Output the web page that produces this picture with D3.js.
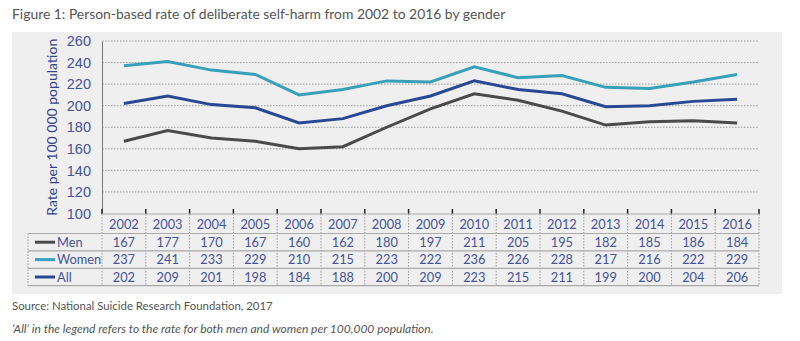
<!DOCTYPE html>
<html>
<head>
    <meta http-equiv="Content-Type" content="text/html;charset=utf-8">
    <script src="https://d3js.org/d3.v7.min.js"></script>
    <style>
        html, body {
            margin: 0;
            padding: 0;
            background: #fff;
            font-family: Lato, "Open Sans", sans-serif;
        }

        .grid line {
            stroke: #9a9a9a;
            stroke-dasharray: 1.5 1.5;
        }

        .ytick text {
            font-size: 14.5px;
            fill: #45539a;
        }

        .cell {
            font-size: 12.8px;
            fill: #45539a;
        }
    </style>
</head>
<body>
<div id="chart"></div>
<script>
    var years = [2002, 2003, 2004, 2005, 2006, 2007, 2008, 2009, 2010, 2011, 2012, 2013, 2014, 2015, 2016];
    var men = [167, 177, 170, 167, 160, 162, 180, 197, 211, 205, 195, 182, 185, 186, 184];
    var women = [237, 241, 233, 229, 210, 215, 223, 222, 236, 226, 228, 217, 216, 222, 229];
    var all = [202, 209, 201, 198, 184, 188, 200, 209, 223, 215, 211, 199, 200, 204, 206];
    var yTicks = [100, 120, 140, 160, 180, 200, 220, 240, 260];

    var series = [
        {name: "Men", values: men, color: "#4a4a4c"},
        {name: "Women", values: women, color: "#38a0b9"},
        {name: "All", values: all, color: "#2a4794"}
    ];

    function render() {
        var width = 800, height = 341;
        var plotLeft = 102, plotRight = 759, plotTop = 41, plotBottom = 213.5;
        var tableLeft = 28, headTop = 214, rowTop = 233.5, rowH = 17.4;

        var svg = d3.select("#chart").append("svg")
            .attr("width", width)
            .attr("height", height);

        svg.append("text")
            .attr("x", 12).attr("y", 19)
            .attr("font-size", 13.9)
            .attr("fill", "#555")
            .text("Figure 1: Person-based rate of deliberate self-harm from 2002 to 2016 by gender");

        // grey panel behind chart + table
        svg.append("rect")
            .attr("x", 12).attr("y", 32)
            .attr("width", 770).attr("height", 262)
            .attr("fill", "#efefef");

        var x = d3.scaleBand().domain(years).range([plotLeft, plotRight]);
        var y = d3.scaleLinear().domain([100, 260]).range([plotBottom, plotTop]);

        // dotted horizontal gridlines
        svg.append("g").attr("class", "grid")
            .selectAll("line")
            .data(yTicks.slice(1))
            .enter().append("line")
            .attr("x1", plotLeft).attr("x2", plotRight)
            .attr("y1", function (d) { return y(d); })
            .attr("y2", function (d) { return y(d); });

        // y axis
        var yAxis = d3.axisLeft(y).tickValues(yTicks).tickSize(0).tickPadding(11);
        var gy = svg.append("g")
            .attr("class", "ytick")
            .attr("transform", "translate(" + plotLeft + ",0)")
            .call(yAxis);
        gy.select(".domain").attr("stroke", "#777").attr("stroke-width", 1);
        gy.selectAll("text").attr("font-family", null);

        svg.append("text")
            .attr("transform", "translate(57," + ((plotTop + plotBottom) / 2) + ") rotate(-90)")
            .attr("text-anchor", "middle")
            .attr("font-size", 14)
            .attr("fill", "#33438f")
            .text("Rate per 100 000 population");

        // small ticks at each band boundary
        var bounds = years.map(function (d) { return x(d); }).concat([plotRight]);
        svg.append("g").selectAll("line")
            .data(bounds)
            .enter().append("line")
            .attr("x1", function (d) { return d; })
            .attr("x2", function (d) { return d; })
            .attr("y1", 209).attr("y2", headTop)
            .attr("stroke", "#222").attr("stroke-width", 1.5);

        // lines
        var line = d3.line()
            .x(function (d, i) { return x(years[i]) + x.bandwidth() / 2; })
            .y(function (d) { return y(d); });

        svg.append("g").selectAll("path")
            .data(series)
            .enter().append("path")
            .attr("d", function (d) { return line(d.values); })
            .attr("fill", "none")
            .attr("stroke", function (d) { return d.color; })
            .attr("stroke-width", 3);

        // data table
        var tableBottom = rowTop + rowH * series.length;
        var table = svg.append("g");

        // header years
        table.selectAll("text.year")
            .data(years)
            .enter().append("text")
            .attr("class", "cell year")
            .attr("x", function (d) { return x(d) + x.bandwidth() / 2; })
            .attr("y", (headTop + rowTop) / 2 + 5)
            .attr("text-anchor", "middle")
            .text(function (d) { return d; });

        // dotted verticals
        table.selectAll("line.vsep")
            .data(bounds)
            .enter().append("line")
            .attr("x1", function (d) { return d; })
            .attr("x2", function (d) { return d; })
            .attr("y1", headTop).attr("y2", tableBottom)
            .attr("stroke", "#999")
            .attr("stroke-dasharray", "1.5 1.5");
        table.append("line")
            .attr("x1", tableLeft).attr("x2", tableLeft)
            .attr("y1", rowTop).attr("y2", tableBottom)
            .attr("stroke", "#999")
            .attr("stroke-dasharray", "1.5 1.5");

        // solid row rules
        table.append("line")
            .attr("x1", plotLeft).attr("x2", plotRight)
            .attr("y1", headTop).attr("y2", headTop)
            .attr("stroke", "#aaa");
        d3.range(series.length + 1).forEach(function (i) {
            table.append("line")
                .attr("x1", tableLeft).attr("x2", plotRight)
                .attr("y1", rowTop + i * rowH).attr("y2", rowTop + i * rowH)
                .attr("stroke", "#aaa").attr("stroke-width", 1.2);
        });

        var rows = table.selectAll("g.row")
            .data(series)
            .enter().append("g")
            .attr("class", "row")
            .attr("transform", function (d, i) {
                return "translate(0," + (rowTop + i * rowH + rowH / 2) + ")";
            });

        rows.append("line")
            .attr("x1", 35).attr("x2", 55)
            .attr("y1", 0).attr("y2", 0)
            .attr("stroke", function (d) { return d.color; })
            .attr("stroke-width", 3);

        rows.append("text")
            .attr("class", "cell")
            .attr("x", 57).attr("y", 4.6)
            .text(function (d) { return d.name; });

        rows.selectAll("text.val")
            .data(function (d) { return d.values; })
            .enter().append("text")
            .attr("class", "cell val")
            .attr("x", function (d, i) { return x(years[i]) + x.bandwidth() / 2; })
            .attr("y", 4.6)
            .attr("text-anchor", "middle")
            .text(function (d) { return d; });

        svg.append("text")
            .attr("x", 12).attr("y", 310)
            .attr("font-size", 11.4)
            .attr("fill", "#555")
            .text("Source: National Suicide Research Foundation, 2017");

        svg.append("text")
            .attr("x", 12).attr("y", 333)
            .attr("font-size", 12)
            .attr("font-style", "italic")
            .attr("fill", "#555")
            .text("\u2018All\u2019 in the legend refers to the rate for both men and women per 100,000 population.");
    }

    render();
</script>
</body>
</html>
